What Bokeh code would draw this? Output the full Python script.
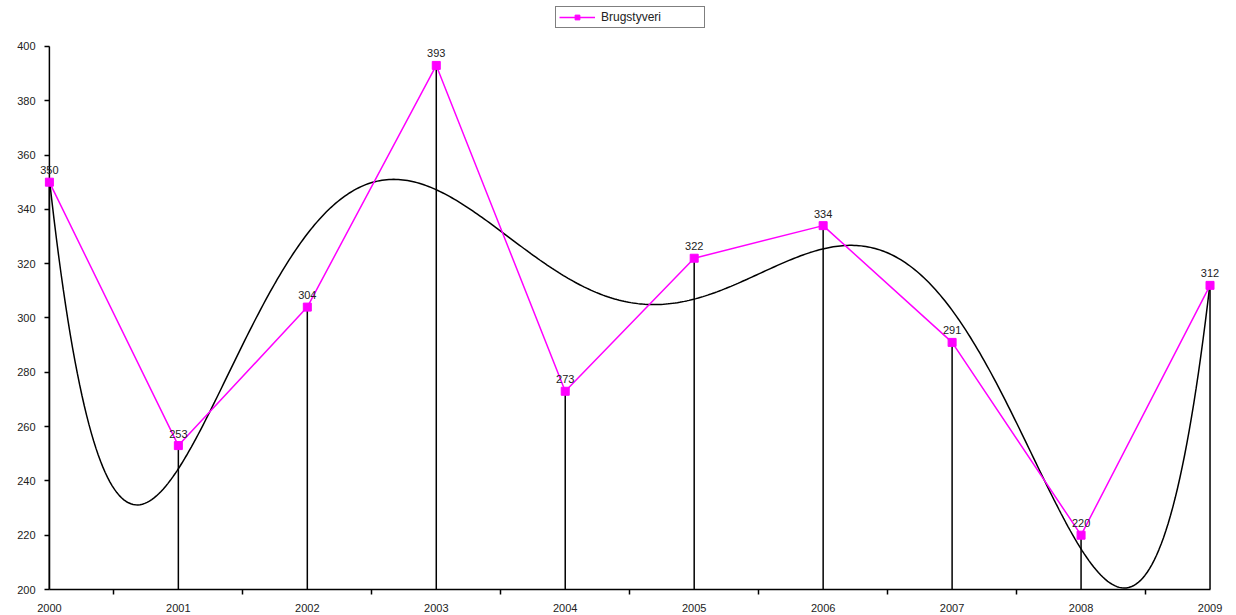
import numpy as np
from bokeh.plotting import figure
from bokeh.models import FixedTicker, Legend, LegendItem, ColumnDataSource, Label
from bokeh.embed import file_html
from bokeh.resources import INLINE

years = [2000, 2001, 2002, 2003, 2004, 2005, 2006, 2007, 2008, 2009]
values = [350, 253, 304, 393, 273, 322, 334, 291, 220, 312]
series_name = "Brugstyveri"
y_ticks = [200, 220, 240, 260, 280, 300, 320, 340, 360, 380, 400]

y_min, y_max = 200, 400
x_pad_left, x_pad_right = 0.10, 0.12   # room so end markers/labels are not clipped
y_top_room = 14.7                      # room above the axis for the legend
FONT = "Liberation Sans"

p = figure(width=1236, height=615, output_backend="svg", toolbar_location=None,
           x_range=(years[0] - x_pad_left, years[-1] + x_pad_right),
           y_range=(y_min, y_max + y_top_room),
           min_border_left=36, min_border_right=11, min_border_top=6, min_border_bottom=26)
p.outline_line_color = None
p.xgrid.visible = False
p.ygrid.visible = False

# x axis
p.xaxis.ticker = FixedTicker(ticks=years, minor_ticks=[y + 0.5 for y in years[:-1]])
p.xaxis.bounds = (years[0], years[-1])
p.xaxis.major_tick_out = 0
p.xaxis.major_tick_in = 0
p.xaxis.minor_tick_out = 5
p.xaxis.minor_tick_in = 0
p.xaxis.minor_tick_line_color = "black"
p.xaxis.minor_tick_line_width = 1.5
p.xaxis.axis_line_color = "black"
p.xaxis.axis_line_width = 1.5
p.xaxis.major_label_standoff = 9

# y axis (line drawn at x = first year below, ticks reach into it)
p.yaxis.ticker = FixedTicker(ticks=y_ticks)
p.yaxis.bounds = (y_min, y_max)
p.yaxis.axis_line_color = None
p.yaxis.major_tick_out = -8
p.yaxis.major_tick_in = 13
p.yaxis.minor_tick_out = 0
p.yaxis.minor_tick_in = 0
p.yaxis.minor_tick_line_color = None
p.yaxis.major_tick_line_color = "black"
p.yaxis.major_tick_line_width = 1.5
p.yaxis.major_label_standoff = 1

for ax in (p.xaxis, p.yaxis):
    ax.major_label_text_font = FONT
    ax.major_label_text_font_size = "11px"
    ax.major_label_text_color = "#222222"

p.segment(x0=[years[0]], y0=[y_min], x1=[years[0]], y1=[y_max], line_color="black", line_width=1.5)

# drop lines
p.segment(x0=years, y0=[y_min] * len(years), x1=years, y1=values, line_color="black", line_width=1.5)

# polynomial trendline (order 6, as in the original spreadsheet)
xs = np.array(years, dtype=float) - years[0]
coef = np.polyfit(xs, np.array(values, dtype=float), 6)
xf = np.linspace(xs[0], xs[-1], 500)
yf = np.polyval(coef, xf)
p.line(xf + years[0], yf, line_color="black", line_width=1.5)

# series
src = ColumnDataSource(dict(x=years, y=values))
r_line = p.line("x", "y", source=src, line_color="#FF00FF", line_width=1.5)
r_mark = p.scatter("x", "y", source=src, marker="square", size=8,
                   fill_color="#FF00FF", line_color="#FF00FF")

for xv, yv in zip(years, values):
    p.add_layout(Label(x=xv, y=yv, text=str(yv), x_offset=0, y_offset=8,
                       text_align="center", text_baseline="bottom",
                       text_font=FONT, text_font_size="11px", text_color="#222222"))

legend = Legend(items=[LegendItem(label=series_name, renderers=[r_line, r_mark])],
                location=(519, 561), orientation="horizontal",
                border_line_color="black", border_line_width=1,
                label_text_font=FONT, label_text_font_size="12px",
                label_text_color="#222222",
                padding=3, spacing=0, margin=0, glyph_width=36, glyph_height=12,
                label_standoff=6, label_height=12, label_width=100)
p.add_layout(legend, "center")

open("out.html", "w").write(file_html(p, INLINE))
